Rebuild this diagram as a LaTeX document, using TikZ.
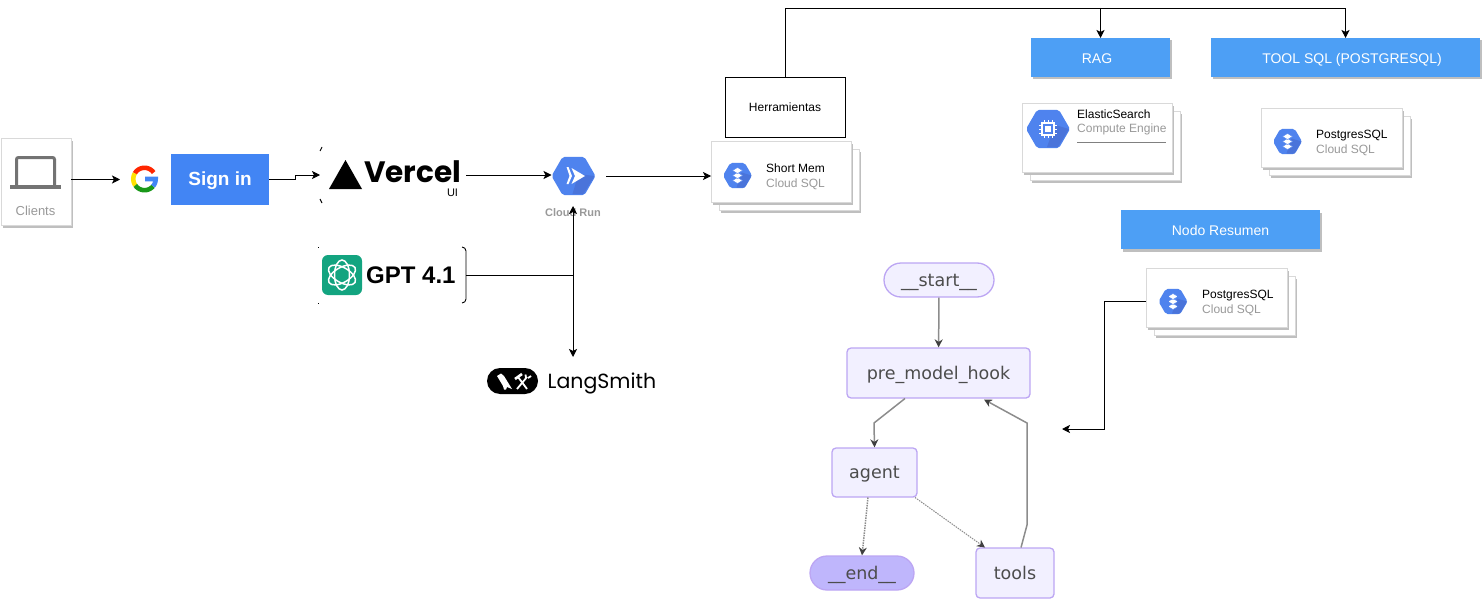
\documentclass[tikz,border=0pt]{standalone}
\usepackage{fontspec}
\setmainfont{Liberation Sans}
\newfontfamily\logofont{Poppins}
\newfontfamily\graphfont{DejaVu Sans}
\usetikzlibrary{arrows.meta,shadows,shapes.geometric,shapes.misc}
\definecolor{gcpblue}{HTML}{4F83EE}
\definecolor{gcpdark}{HTML}{4A74DA}
\definecolor{boxblue}{HTML}{4D9FF5}
\definecolor{signblue}{HTML}{4285F4}
\definecolor{cardgray}{HTML}{999999}
\definecolor{graphfill}{HTML}{F2F0FF}
\definecolor{graphline}{HTML}{BCA6F3}
\definecolor{endfill}{HTML}{BFB6FC}
\definecolor{gptgreen}{HTML}{13A480}
\tikzset{
    >={Stealth[length=8pt,width=8pt,inset=2pt]},
    link/.style={line width=.9pt,black},
    plain shadow/.style={drop shadow={shadow xshift=2pt,shadow yshift=-2.5pt,opacity=1,fill=black!25}},
    card/.style={draw=black!15,line width=.7pt,fill=white,plain shadow,inner sep=0pt,outer sep=0pt},
    cardtext/.style={anchor=west,align=left,inner sep=0pt,font=\fontsize{12}{14.5}\selectfont},
    bluebox/.style={fill=boxblue,plain shadow,text=white,inner sep=0pt,outer sep=0pt,minimum height=39pt,text height=13pt,text depth=1pt,font=\fontsize{14}{16}\selectfont},
    hexicon/.style={regular polygon,regular polygon sides=6,fill=gcpblue,rounded corners=2pt,inner sep=0pt,outer sep=0pt,minimum size=#1},
    graphbox/.style={draw=graphline,line width=1.3pt,fill=graphfill,rounded corners=4pt,inner sep=0pt,text=black!70,text height=15pt,text depth=3pt,font=\graphfont\fontsize{17.5}{20}\selectfont},
    graphpill/.style={rounded rectangle,draw=graphline,line width=1.3pt,fill=graphfill,inner sep=0pt,text=black!70,text height=15pt,text depth=3pt,font=\graphfont\fontsize{17.5}{20}\selectfont},
    flow/.style={black!45,line width=1.5pt,-{Stealth[length=8pt,width=8pt,color=black!75]}},
    dotflow/.style={flow,densely dotted},
    sqlicon/.pic={
        \node[hexicon=29pt] (-hex) {};
        \fill[gcpdark] (4,-3) -- (14,0) -- (7,12) -- (-1,12) -- cycle;
        \foreach \yy in {5,0,-5}
            \fill[white,draw=gcpblue,line width=.4pt] (-5,\yy) -- (0,\yy-3) -- (5,\yy) -- (0,\yy+3) -- cycle;
    },
    chipicon/.pic={
        \node[hexicon=44pt] (-hex) {};
        \fill[gcpdark] (7,-4) -- (21,0) -- (10,18) -- (-1,18) -- cycle;
        \draw[white,line width=1.5pt] (-6,-6) rectangle (6,6);
        \fill[white] (-3,-3) rectangle (3,3);
        \foreach \pp in {-4,0,4} {
            \draw[white,line width=1pt] (\pp,-9) -- (\pp,-6) (\pp,6) -- (\pp,9);
            \draw[white,line width=1pt] (-9,\pp) -- (-6,\pp) (6,\pp) -- (9,\pp);
        }
    },
    runicon/.pic={
        \node[hexicon=44pt] (-hex) {};
        \fill[gcpdark] (5,-2) -- (21,0) -- (10,18) -- (-1,18) -- cycle;
        \fill[white] (-7,-9) -- (-5,-9) -- (-1.5,0) -- (-5,8) -- (-7,8) -- (-4,0) -- cycle;
        \fill[white] (-2,-8) -- (11.5,0) -- (-2,8) -- (1.5,0) -- cycle;
    }
}
\begin{document}
\begin{tikzpicture}[x=1pt,y=-1pt]
        \useasboundingbox (0,0) rectangle (1484,602);
        %% Clients
        \node[card,minimum width=70pt,minimum height=87pt] (clients) at (36,181.5) {};
        \draw[black!55,line width=3pt,rounded corners=2pt] (16.5,186) -- (16.5,157.5) -- (54.5,157.5) -- (54.5,186);
        \fill[black!55] (10,185) rectangle (61,189);
        \node[text=cardgray,font=\fontsize{13}{15}\selectfont,inner sep=0pt] (clientstext) at (35.5,210.5) {Clients};
        %% Sign in
        \node[fill=white,minimum width=51pt,minimum height=51pt,inner sep=0pt,outer sep=0pt] (signg) at (145.5,179.5) {};
        \node[fill=signblue,text=white,minimum width=98pt,minimum height=51pt,inner sep=0pt,outer sep=0pt,text height=14pt,text depth=3pt,font=\fontsize{19}{22}\selectfont\bfseries] (signin) at (220,179.5) {Sign in};
        \draw[red!70!orange,line width=4.6pt] plot[domain=35:150,samples=14] ({144.5+11.2*cos(\x)},{179-11.2*sin(\x)});
        \draw[yellow!85!orange,line width=4.6pt] plot[domain=150:215,samples=10] ({144.5+11.2*cos(\x)},{179-11.2*sin(\x)});
        \draw[green!55!black!90!white,line width=4.6pt] plot[domain=215:320,samples=12] ({144.5+11.2*cos(\x)},{179-11.2*sin(\x)});
        \draw[signblue,line width=4.6pt] plot[domain=320:360,samples=6] ({144.5+11.2*cos(\x)},{179-11.2*sin(\x)}) -- (145,179);
        %% Vercel
        \node[minimum width=146pt,minimum height=56pt,inner sep=0pt,outer sep=0pt] (vercel) at (393,175) {};
        \draw[link] ([xshift=2pt]vercel.north west) to[bend right=25] ([yshift=-4pt]vercel.north west);
        \draw[link] ([xshift=2pt]vercel.south west) to[bend left=25] ([yshift=4pt]vercel.south west);
        \fill[black] (329,189) -- (362,189) -- (345.5,160) -- cycle;
        \node[anchor=west,inner sep=0pt,text depth=0pt,font=\logofont\fontsize{29.5}{32}\selectfont\bfseries] (verceltext) at (364,172) {Vercel};
        \node[inner sep=0pt,font=\fontsize{11}{12}\selectfont] (uitext) at (452.5,192.5) {UI};
        %% GPT
        \node[minimum width=148pt,minimum height=56pt,inner sep=0pt,outer sep=0pt] (gptbox) at (392,275) {};
        \draw[link,rounded corners=4pt] ([xshift=-4pt]gptbox.north east) -- (gptbox.north east) -- (gptbox.south east) -- ([xshift=-4pt]gptbox.south east);
        \draw[line width=.6pt] (gptbox.north west) -- ++(1,0) (gptbox.south west) -- ++(1,0);
        \node[fill=gptgreen,rounded corners=6pt,minimum size=40pt,inner sep=0pt] (gptlogo) at (342,275) {};
        \foreach \rr in {30,90,150}
            \draw[white,line width=1.5pt,rotate around={\rr:(gptlogo.center)}] (gptlogo.center) ellipse (15pt and 7.5pt);
        \node[anchor=west,inner sep=0pt,font=\fontsize{24}{28}\selectfont\bfseries] (gpttext) at (366,275) {GPT 4.1};
        %% Cloud Run
        \pic (run) at (573.5,176) {runicon};
        \node[text=cardgray,inner sep=0pt,font=\fontsize{11}{13}\selectfont\bfseries] (runtext) at (573,212.5) {Cloud Run};
        \coordinate (runtop) at (573,206);
        \coordinate (runout) at (606,176);
        %% LangSmith
        \node[rounded rectangle,fill=black,minimum width=51pt,minimum height=26pt,inner sep=0pt] (smithpill) at (512.5,381) {};
        \fill[white] (497,376) -- (501,373.5) -- (504,376) -- (512,389) -- (507,387) -- (506,389.5) -- (504,389.5) -- (503,386) -- (500,381) -- cycle;
        \draw[white,line width=1.8pt] (527,389) -- (518,377) (517,389) -- (527,377);
        \draw[white,line width=2.6pt] (515,379) -- (522,374);
        \draw[white,line width=1.8pt] (526,378) -- (525.5,374.5) (528,378) -- (531,376);
        \node[anchor=west,inner sep=0pt,text height=16pt,text depth=2pt,font=\logofont\fontsize{20.5}{24}\selectfont] (smithtext) at (547.5,381) {LangSmith};
        \coordinate (smithtop) at (573,357);
        %% Herramientas
        \node[draw,line width=1pt,minimum width=120pt,minimum height=60pt,inner sep=0pt,outer sep=0pt,font=\fontsize{12}{14}\selectfont] (tools) at (785,107.5) {Herramientas};
        %% Short Mem
        \node[card,minimum width=140pt,minimum height=61pt] (smemback) at (789,179.5) {};
        \node[card,minimum width=140pt,minimum height=61pt] (smem) at (781,171.5) {};
        \pic (smemicon) at (737.5,175.5) {sqlicon};
        \node[cardtext] (smemtext) at (766,177) {Short Mem\\\textcolor{cardgray}{Cloud SQL}};
        %% RAG
        \node[bluebox,minimum width=139pt] (rag) at (1100.5,57.5) {\hspace*{-7pt}RAG};
        \node[card,minimum width=150pt,minimum height=69pt] (elasticback) at (1105,145.5) {};
        \node[card,minimum width=150pt,minimum height=69pt] (elastic) at (1097,137.5) {};
        \pic (elasticicon) at (1048,129) {chipicon};
        \node[cardtext] (elastictext) at (1077,122.5) {ElasticSearch\\\textcolor{cardgray}{Compute Engine}};
        \coordinate (elasticrulea) at (1077,142);
        \coordinate (elasticruleb) at (1166,142);
        \draw[black!50,line width=.7pt] (elasticrulea) -- (elasticruleb);
        %% Tool SQL
        \node[bluebox,minimum width=269pt] (toolsql) at (1345.5,57.5) {\hspace*{13pt}TOOL SQL (POSTGRESQL)};
        \node[card,minimum width=141pt,minimum height=59pt] (pgoneback) at (1339.5,145.5) {};
        \node[card,minimum width=141pt,minimum height=59pt] (pgone) at (1331.5,137.5) {};
        \pic (pgoneicon) at (1287.5,141.5) {sqlicon};
        \node[cardtext] (pgonetext) at (1316,143) {PostgresSQL\\\textcolor{cardgray}{Cloud SQL}};
        %% Nodo Resumen
        \node[bluebox,minimum width=199pt] (resumen) at (1220.5,229.5) {Nodo Resumen};
        \node[card,minimum width=141pt,minimum height=59pt] (pgtwoback) at (1224.5,305.5) {};
        \node[card,minimum width=141pt,minimum height=59pt] (pgtwo) at (1216.5,297.5) {};
        \pic (pgtwoicon) at (1173,301.5) {sqlicon};
        \node[cardtext] (pgtwotext) at (1202,303) {PostgresSQL\\\textcolor{cardgray}{Cloud SQL}};
        \coordinate (pgtwoout) at (1146,301);
        \coordinate (graphin) at (1062,429);
        %% Graph
        \node[graphpill,minimum width=110pt,minimum height=34pt] (gstart) at (939,280) {\_\_start\_\_};
        \node[graphbox,minimum width=183pt,minimum height=50pt] (gpre) at (938.5,373) {pre\_model\_hook};
        \node[graphbox,minimum width=85pt,minimum height=49pt] (gagent) at (874.5,472.5) {agent};
        \node[graphpill,fill=endfill,minimum width=104pt,minimum height=34pt] (gend) at (862,573) {\_\_end\_\_};
        \node[graphbox,minimum width=78pt,minimum height=50pt] (gtools) at (1015,573) {tools};
        \coordinate (preout) at (905,398.5);
        \coordinate (agentoutl) at (868,497.5);
        \coordinate (agentoutr) at (915,497.5);
        \coordinate (toolsin) at (985,547.5);
        \coordinate (toolsout) at (1021,547.5);
        \coordinate (prein) at (984,399.5);
        \draw[flow] (gstart) -- (gpre);
        \draw[flow] (preout) -- (874,423) -- (gagent.north);
        \draw[dotflow] (agentoutl) -- (gend.north);
        \draw[dotflow,line width=1pt] (agentoutr) -- (toolsin);
        \draw[flow] (toolsout) -- (1027,525) -- (1027,423) -- (prein);
        %% Links
        \draw[link,->] (signin.west -| clients.east) -- (signg.west);
        \draw[link,->] (signin.east) -- ++(26,0) |- (vercel.west);
        \draw[link,->] (vercel.east) -- (vercel.east -| run-hex.west);
        \draw[link,->] (runout) -- (runout -| smem.west);
        \draw[link] (gptbox.east) -- (gptbox.east -| runtop);
        \draw[link,<->] (runtop) -- (smithtop);
        \draw[link,->] (tools.north) |- (toolsql.north |- 0,8) -- (toolsql.north);
        \draw[link,->] (rag.north |- 0,8) -- (rag.north);
        \draw[link,->] (pgtwoout) -| (1104,429) -- (graphin);
\end{tikzpicture}
\end{document}
